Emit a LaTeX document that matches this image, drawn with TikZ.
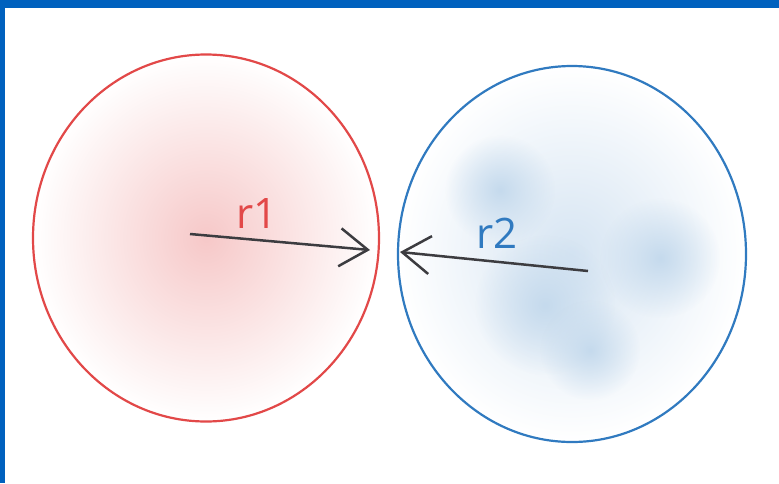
\documentclass[tikz,border=0pt]{standalone}
\usepackage{fontspec}
\setmainfont{Open Sans}
\usetikzlibrary{arrows.meta,positioning,shapes.geometric,fadings}
\definecolor{frame}{RGB}{0,97,190}
\definecolor{rose}{RGB}{226,72,72}
\definecolor{sky}{RGB}{48,122,192}
\definecolor{ink}{RGB}{60,60,64}
\tikzfading[name=spot,inner color=transparent!0,outer color=transparent!100]

\tikzset{
  ball/.style={ellipse,draw=#1,line width=2.2pt,inner sep=0pt},
  radius/.style={draw=ink,line width=2.5pt,-{Straight Barb[length=28pt,width=38pt,line width=2.5pt]}},
  tag/.style={font=\fontsize{42}{44}\selectfont,text=#1,inner sep=0pt}
}

\begin{document}
\begin{tikzpicture}[x=1pt,y=-1pt]
        \fill[frame] (0,0) rectangle (779,483);
        \fill[white] (5,8) rectangle (779,483);
        \useasboundingbox (0,0) rectangle (779,483);
        % soft fills
        \shade[inner color=rose!30,outer color=white] (206,238) ellipse (173 and 184);
        \shade[inner color=sky!20,outer color=white] (572,254) ellipse (174 and 188);
        \foreach \x/\y/\s in {545/305/70,660/258/60,500/190/55,590/350/50}
          \fill[sky!28,path fading=spot] (\x,\y) circle (\s);
        \node[ball=rose,minimum width=346pt,minimum height=367pt] (left) at (206,238) {};
        \node[ball=sky,minimum width=348pt,minimum height=376pt] (right) at (572,254) {};
        \coordinate (lc) at (190,234);
        \coordinate (rc) at (588,271);
        \coordinate (lhit) at (370,250);
        \coordinate (rhit) at (400,252);
        \draw[radius] (lc) -- (lhit);
        \draw[radius] (rc) -- (rhit);
        \node[tag=rose] (r1) at (257,214) {r1};
        \node[tag=sky] (r2) at (497,233) {r2};
      \end{tikzpicture}
\end{document}
